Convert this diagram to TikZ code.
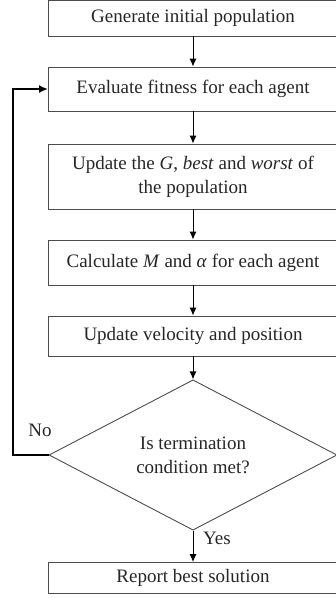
\documentclass[tikz,border=0pt]{standalone}
\usepackage{fontspec}
\setmainfont{Liberation Serif}
\usetikzlibrary{arrows.meta}
\usetikzlibrary{shapes}

\begin{document}
\begin{tikzpicture}[x = 1pt, y = -1pt, font = \fontsize{19}{24}\selectfont]
	\tikzstyle{stepStyle} = [shape = rectangle, draw = black!70, line width = 0.9pt, minimum width = 289pt, inner sep = 0pt, align = center, text = black!85]
	\tikzstyle{testStyle} = [shape = diamond, draw = black!70, line width = 0.9pt, minimum width = 288pt, minimum height = 136pt, inner sep = 0pt, align = center, text = black!85]
	\tikzstyle{flowStyle} = [-{Latex[length = 8pt, width = 7pt]}, line width = 0.9pt]
	\tikzstyle{loopStyle} = [-{Latex[length = 9pt, width = 8pt]}, line width = 2.4pt]
	\useasboundingbox (0,0) rectangle (336,598);
	\node[stepStyle, minimum height = 36pt] (gen) at (193, 18) {Generate initial population};
	\node[stepStyle, minimum height = 44pt] (eval) at (193, 89) {Evaluate fitness for each agent};
	\node[stepStyle, minimum height = 65pt] (upd) at (193, 176.5) {Update the \textit{G}, \textit{best} and \textit{worst} of\\the population};
	\node[stepStyle, minimum height = 45pt] (calc) at (193, 262.5) {Calculate \textit{M} and \textit{α} for each agent};
	\node[stepStyle, minimum height = 40pt] (vel) at (193, 336) {Update velocity and position};
	\node[testStyle] (test) at (193, 455) {Is termination\\condition met?};
	\node[stepStyle, minimum height = 31pt] (rep) at (193, 578) {Report best solution};
	\node[text = black!85] (no) at (40, 430) {No};
	\node[text = black!85] (yes) at (217, 538) {Yes};
	\coordinate (turn) at (12.7, 455);
	\draw[flowStyle] (gen) -- (eval);
	\draw[flowStyle] (eval) -- (upd);
	\draw[flowStyle] (upd) -- (calc);
	\draw[flowStyle] (calc) -- (vel);
	\draw[flowStyle] (vel) -- (test);
	\draw[flowStyle] (test) -- (rep);
	\draw[loopStyle] (test.west) -- (turn) |- (eval.west);
\end{tikzpicture}
\end{document}
